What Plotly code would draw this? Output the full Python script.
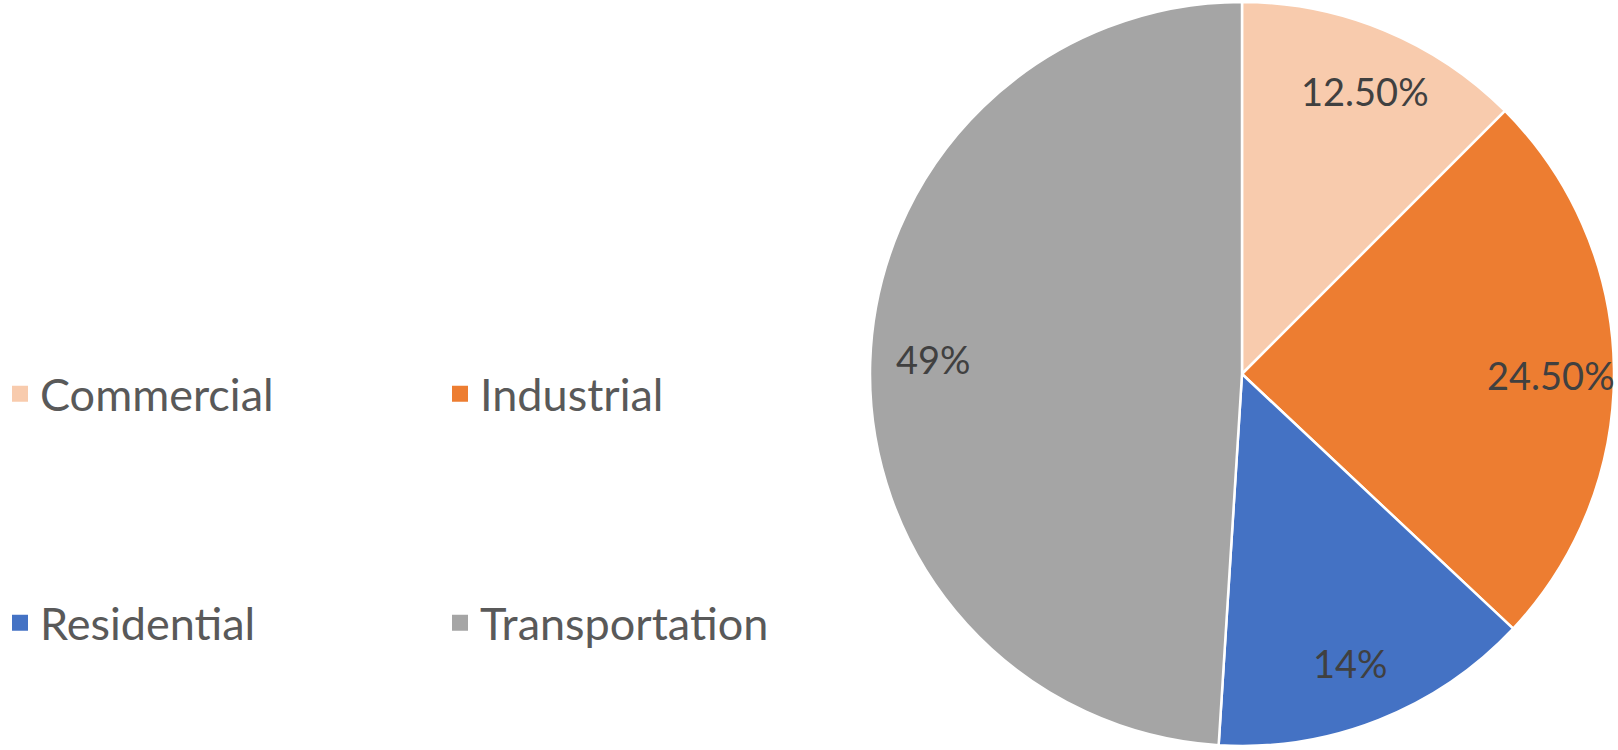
import math
import plotly.graph_objects as go

categories = ["Commercial", "Industrial", "Residential", "Transportation"]
shares = [12.5, 24.5, 14, 49]
share_labels = ["12.50%", "24.50%", "14%", "49%"]
colors = ["#F8CBAD", "#ED7D31", "#4472C4", "#A5A5A5"]

W, H = 1618, 750
dom_x = [870 / W, 1614 / W]
dom_y = [4 / H, 748 / H]
FONT = "Lato, 'Open Sans', sans-serif"

fig = go.Figure()
fig.add_trace(go.Pie(
    labels=categories, values=shares, sort=False, direction="clockwise",
    rotation=0, marker=dict(colors=colors, line=dict(color="white", width=2.5)),
    textinfo="none", showlegend=False, hoverinfo="label+percent",
    domain=dict(x=dom_x, y=dom_y),
))

# data labels placed at slice mid-angles
cx = (dom_x[0] + dom_x[1]) / 2 * W
cy = (1 - (dom_y[0] + dom_y[1]) / 2) * H
R = (dom_y[1] - dom_y[0]) * H / 2
total = sum(shares)
cum = 0
for v, t in zip(shares, share_labels):
    mid = (cum + v / 2) / total * 2 * math.pi + math.radians(1)
    cum += v
    px = cx + 0.83 * R * math.sin(mid)
    py = cy - 0.83 * R * math.cos(mid)
    fig.add_annotation(x=px / W, y=1 - py / H, xref="paper", yref="paper",
                       text=t, showarrow=False, xanchor="center", yanchor="middle",
                       font=dict(family=FONT, size=38, color="#404040"))

# legend entries (two rows, two columns)
legend_rows = ["legend", "legend", "legend2", "legend2"]
for name, col, lg in zip(categories, colors, legend_rows):
    fig.add_trace(go.Scatter(
        x=[None], y=[None], mode="markers", name=name, legend=lg,
        marker=dict(symbol="square", size=20, color=col),
    ))

leg_common = dict(orientation="h", xanchor="left", yanchor="top", x=0,
                  entrywidth=395, entrywidthmode="pixels", itemsizing="trace",
                  bgcolor="rgba(0,0,0,0)", borderwidth=0,
                  font=dict(family=FONT, size=45, color="#595959"))

fig.update_layout(
    width=W, height=H, margin=dict(l=0, r=0, t=0, b=0),
    paper_bgcolor="white", plot_bgcolor="white",
    xaxis=dict(visible=False), yaxis=dict(visible=False),
    legend=dict(y=1 - 358 / H, **leg_common),
    legend2=dict(y=1 - 587 / H, **leg_common),
)

fig.write_html("out.html")
